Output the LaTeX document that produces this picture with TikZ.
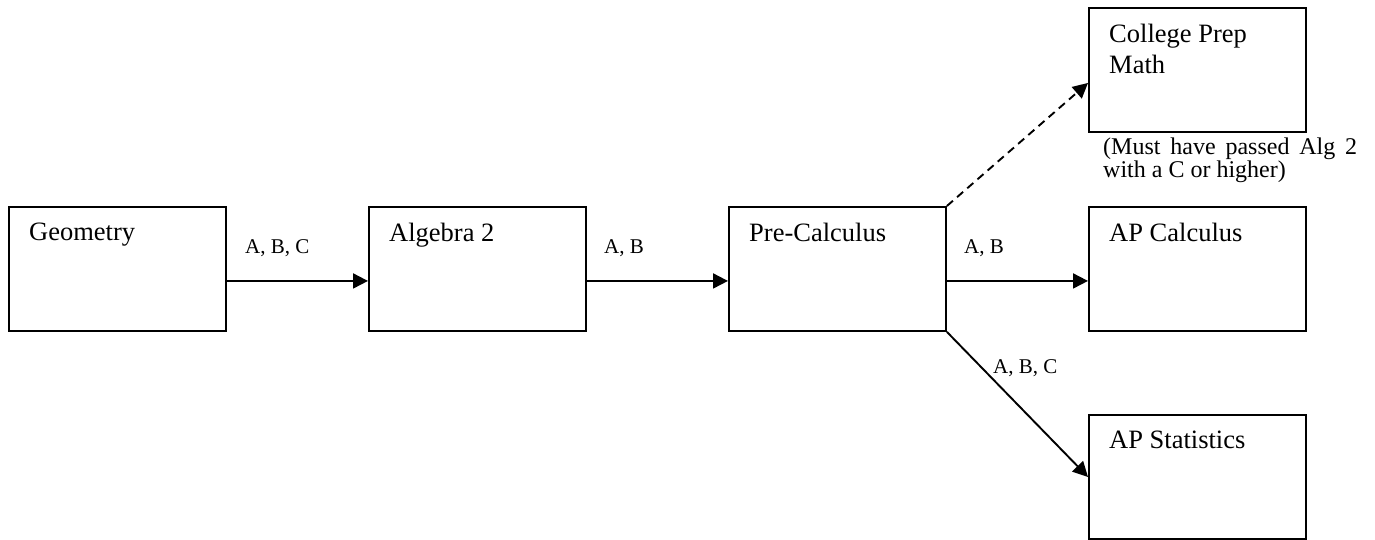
\documentclass[tikz,border=0pt]{standalone}
\usepackage{fontspec}
\setmainfont{Liberation Serif}
\usetikzlibrary{arrows.meta}

\tikzset{
  course/.style={draw, line width=1.9pt, anchor=north west, inner sep=0pt,
    minimum width=217pt, minimum height=124pt},
  coursename/.style={anchor=north west, inner sep=0pt, xshift=21pt, yshift=-17pt,
    align=left, font=\fontsize{26.5}{30.5}\selectfont},
  grade/.style={anchor=base west, inner sep=0pt, font=\fontsize{21}{22}\selectfont},
  remark/.style={anchor=north west, inner sep=0pt, align=left,
    font=\fontsize{24}{23}\selectfont},
  link/.style={line width=1.9pt, -{Triangle[length=15pt,width=15pt]}},
  optional/.style={link, dash pattern=on 8pt off 5.5pt}
}

\begin{document}
\begin{tikzpicture}[x=1pt, y=-1pt]
  \useasboundingbox (0,0) rectangle (1375,540);

  % course boxes
  \node[course, label={[coursename]north west:Geometry}]      (geo)  at (8,206)    {};
  \node[course, label={[coursename]north west:Algebra 2}]     (alg)  at (368,206)  {};
  \node[course, label={[coursename]north west:Pre-Calculus}]  (pre)  at (728,206)  {};
  \node[course, label={[coursename]north west:College Prep\\Math}] (cpm) at (1088,7) {};
  \node[course, label={[coursename]north west:AP Calculus}]   (apc)  at (1088,206) {};
  \node[course, label={[coursename]north west:AP Statistics}] (aps)  at (1088,414) {};

  % prerequisites
  \draw[link] ([yshift=-12pt]geo.east) -- ([yshift=-12pt]alg.west);
  \draw[link] ([yshift=-12pt]alg.east) -- ([yshift=-12pt]pre.west);
  \draw[link] ([yshift=-12pt]pre.east) -- ([yshift=-12pt]apc.west);
  \draw[link] (pre.south east) -- (aps.west);
  \draw[optional] (pre.north east) -- ([yshift=-13pt]cpm.west);

  % grades required
  \node[grade] (g1) at (245,253) {A, B, C};
  \node[grade] (g2) at (604,253) {A, B};
  \node[grade] (g3) at (964,253) {A, B};
  \node[grade] (g4) at (993,373) {A, B, C};

  % note below College Prep Math
  \node[remark] (note) at (1103,137.5)
    {\makebox[254pt][s]{(Must have passed Alg 2}\\with a C or higher)};
\end{tikzpicture}
\end{document}
